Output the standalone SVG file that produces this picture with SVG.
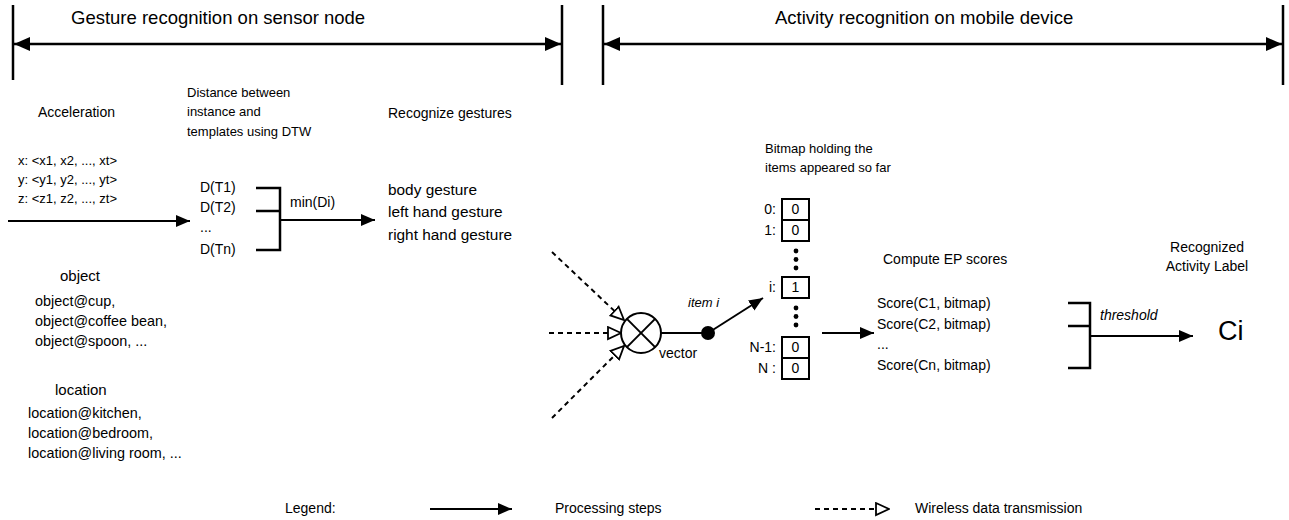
<svg xmlns="http://www.w3.org/2000/svg" width="1289" height="520" viewBox="0 0 1289 520">
  <style>
    text { font-family: "Liberation Sans", Arial, sans-serif; fill: #000; }
    .title { font-size: 18.5px; }
    .lbl { font-size: 14px; }
    .sm { font-size: 13px; }
    .it { font-style: italic; }
    .solid { stroke: #000; stroke-width: 2; fill: none; }
    .bar { stroke: #000; stroke-width: 2.5; fill: none; }
    .dash { stroke: #000; stroke-width: 2; fill: none; stroke-dasharray: 5 4; }
    .cell { fill: #fff; stroke: #000; stroke-width: 2; }
  </style>
  <defs>
    <marker id="arr" viewBox="0 0 14 12" refX="14" refY="6" markerWidth="14" markerHeight="12" markerUnits="userSpaceOnUse" orient="auto-start-reverse">
      <path d="M0,0 L14,6 L0,12 z" fill="#000"/>
    </marker>
    <marker id="arrBig" viewBox="0 0 16 14" refX="16" refY="7" markerWidth="16" markerHeight="14" markerUnits="userSpaceOnUse" orient="auto-start-reverse">
      <path d="M0,0 L16,7 L0,14 z" fill="#000"/>
    </marker>
    <marker id="hollow" viewBox="0 0 15 15" refX="14" refY="7.5" markerWidth="15" markerHeight="15" markerUnits="userSpaceOnUse" orient="auto">
      <path d="M1,1.5 L14,7.5 L1,13.5 z" fill="#fff" stroke="#000" stroke-width="1.8"/>
    </marker>
  </defs>

  <!-- Section headers -->
  <g id="section-sensor">
    <line class="bar" x1="13" y1="5" x2="13" y2="80"/>
    <line class="bar" x1="562" y1="5" x2="562" y2="85"/>
    <line class="bar" x1="14" y1="44" x2="561" y2="44" marker-start="url(#arrBig)" marker-end="url(#arrBig)"/>
    <text class="title" x="71" y="24">Gesture recognition on sensor node</text>
  </g>
  <g id="section-mobile">
    <line class="bar" x1="603" y1="5" x2="603" y2="85"/>
    <line class="bar" x1="1283" y1="5" x2="1283" y2="85"/>
    <line class="bar" x1="604" y1="44" x2="1282" y2="44" marker-start="url(#arrBig)" marker-end="url(#arrBig)"/>
    <text class="title" x="775" y="24">Activity recognition on mobile device</text>
  </g>

  <!-- Sensor inputs -->
  <g id="acceleration">
    <text class="lbl" x="38" y="117">Acceleration</text>
    <text class="sm" x="18" y="165">x: &lt;x1, x2, ..., xt&gt;</text>
    <text class="sm" x="18" y="184">y: &lt;y1, y2, ..., yt&gt;</text>
    <text class="sm" x="18" y="203">z: &lt;z1, z2, ..., zt&gt;</text>
  </g>
  <g id="object">
    <text class="lbl" x="60" y="281" style="font-size:15px">object</text>
    <text class="lbl" x="35" y="306" style="font-size:14.4px">object@cup,</text>
    <text class="lbl" x="35" y="326" style="font-size:14.4px">object@coffee bean,</text>
    <text class="lbl" x="35" y="346" style="font-size:14.4px">object@spoon, ...</text>
  </g>
  <g id="location">
    <text class="lbl" x="55" y="395" style="font-size:15px">location</text>
    <text class="lbl" x="28" y="418" style="font-size:14.4px">location@kitchen,</text>
    <text class="lbl" x="28" y="438" style="font-size:14.4px">location@bedroom,</text>
    <text class="lbl" x="28" y="458" style="font-size:14.4px">location@living room, ...</text>
  </g>

  <!-- DTW distances -->
  <g id="dtw">
    <text class="sm" x="187" y="97">Distance between</text>
    <text class="sm" x="187" y="116">instance and</text>
    <text class="sm" x="187" y="136">templates using DTW</text>
    <text class="lbl" x="200" y="192">D(T1)</text>
    <text class="lbl" x="200" y="212">D(T2)</text>
    <text class="lbl" x="200" y="232">...</text>
    <text class="lbl" x="200" y="254">D(Tn)</text>
    <text class="lbl" x="290" y="207">min(Di)</text>
  </g>

  <!-- Gesture output -->
  <g id="gestures">
    <text class="lbl" x="388" y="118">Recognize gestures</text>
    <text class="lbl" x="388" y="195" style="font-size:15.4px">body gesture</text>
    <text class="lbl" x="388" y="217" style="font-size:15.4px">left hand gesture</text>
    <text class="lbl" x="388" y="240" style="font-size:15.4px">right hand gesture</text>
  </g>

  <!-- Combiner -->
  <g id="combiner">
    <circle cx="641" cy="333" r="20" fill="#fff" stroke="#000" stroke-width="2"/>
    <line class="solid" x1="626.9" y1="318.9" x2="655.1" y2="347.1"/>
    <line class="solid" x1="626.9" y1="347.1" x2="655.1" y2="318.9"/>
    <text class="lbl" x="659" y="358">vector</text>
    <circle cx="708" cy="333" r="7" fill="#000"/>
    <text class="sm it" x="688" y="307">item i</text>
  </g>

  <!-- Bitmap -->
  <g id="bitmap">
    <text class="sm" x="765" y="153">Bitmap holding the</text>
    <text class="sm" x="765" y="172">items appeared so far</text>
    <rect class="cell" x="782" y="199" width="27" height="21"/>
    <rect class="cell" x="782" y="220" width="27" height="21"/>
    <rect class="cell" x="782" y="277" width="27" height="21"/>
    <rect class="cell" x="782" y="337" width="27" height="21"/>
    <rect class="cell" x="782" y="358" width="27" height="21"/>
    <g class="lbl" text-anchor="middle">
      <text x="795.5" y="214">0</text>
      <text x="795.5" y="235">0</text>
      <text x="795.5" y="292">1</text>
      <text x="795.5" y="352">0</text>
      <text x="795.5" y="373">0</text>
    </g>
    <g class="lbl" text-anchor="end">
      <text x="776" y="214">0:</text>
      <text x="776" y="235">1:</text>
      <text x="776" y="292">i:</text>
      <text x="776" y="352">N-1:</text>
      <text x="776" y="373">N :</text>
    </g>
    <g fill="#000">
      <circle cx="796" cy="251" r="2.4"/>
      <circle cx="796" cy="259.5" r="2.4"/>
      <circle cx="796" cy="268" r="2.4"/>
      <circle cx="796" cy="308" r="2.4"/>
      <circle cx="796" cy="316.5" r="2.4"/>
      <circle cx="796" cy="325" r="2.4"/>
    </g>
  </g>

  <!-- EP scores -->
  <g id="scores">
    <text class="lbl" x="883" y="264">Compute EP scores</text>
    <text class="lbl" x="877" y="308">Score(C1, bitmap)</text>
    <text class="lbl" x="877" y="329">Score(C2, bitmap)</text>
    <text class="lbl" x="877" y="349">...</text>
    <text class="lbl" x="877" y="370">Score(Cn, bitmap)</text>
    <text class="lbl it" x="1100" y="320">threshold</text>
  </g>

  <!-- Result -->
  <g id="result">
    <text class="lbl" x="1207" y="252" text-anchor="middle">Recognized</text>
    <text class="lbl" x="1207" y="271" text-anchor="middle">Activity Label</text>
    <text x="1218" y="340" style="font-size:27px">Ci</text>
  </g>

  <!-- Connectors -->
  <g id="connectors">
    <line class="solid" x1="8" y1="221" x2="190" y2="221" marker-end="url(#arr)"/>
    <path class="bar" d="M256,188 H280 V250 H256 M256,211 H280"/>
    <line class="solid" x1="280" y1="220" x2="375" y2="220" marker-end="url(#arr)"/>
    <line class="dash" x1="552" y1="252" x2="624" y2="320" marker-end="url(#hollow)"/>
    <line class="dash" x1="549" y1="333" x2="621" y2="333" marker-end="url(#hollow)"/>
    <line class="dash" x1="552" y1="418" x2="624" y2="346" marker-end="url(#hollow)"/>
    <line class="solid" x1="661" y1="333" x2="708" y2="333"/>
    <line class="solid" x1="708" y1="333" x2="763" y2="298" marker-end="url(#arr)"/>
    <line class="solid" x1="822" y1="333" x2="874" y2="333" marker-end="url(#arr)"/>
    <path class="bar" d="M1068,303 H1090 V368 H1068 M1068,326 H1090"/>
    <line class="solid" x1="1090" y1="336" x2="1193" y2="336" marker-end="url(#arr)"/>
  </g>

  <!-- Legend -->
  <g id="legend">
    <text class="lbl" x="285" y="513">Legend:</text>
    <line class="solid" x1="430" y1="509" x2="512" y2="509" marker-end="url(#arr)"/>
    <text class="lbl" x="555" y="513">Processing steps</text>
    <line class="dash" x1="815" y1="509" x2="889" y2="509" marker-end="url(#hollow)"/>
    <text class="lbl" x="915" y="513">Wireless data transmission</text>
  </g>
</svg>
